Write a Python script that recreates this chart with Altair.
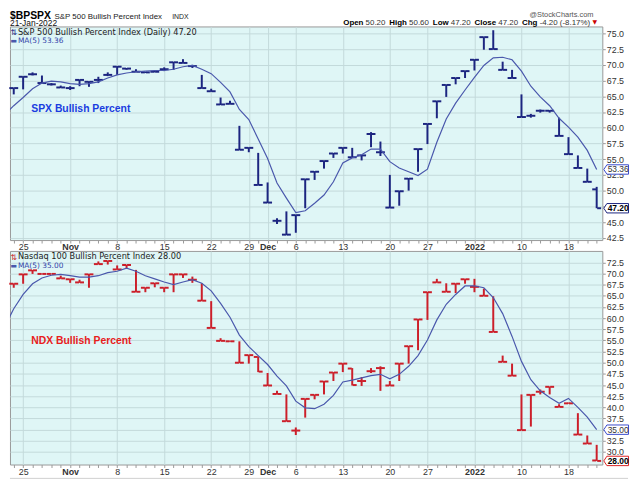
import json
import altair as alt
import pandas as pd

# ---------------- data ----------------
dates = [
    "2021-10-22", "2021-10-25", "2021-10-26", "2021-10-27", "2021-10-28", "2021-10-29",
    "2021-11-01", "2021-11-02", "2021-11-03", "2021-11-04", "2021-11-05",
    "2021-11-08", "2021-11-09", "2021-11-10", "2021-11-11", "2021-11-12",
    "2021-11-15", "2021-11-16", "2021-11-17", "2021-11-18", "2021-11-19",
    "2021-11-22", "2021-11-23", "2021-11-24", "2021-11-26",
    "2021-11-29", "2021-11-30", "2021-12-01", "2021-12-02", "2021-12-03",
    "2021-12-06", "2021-12-07", "2021-12-08", "2021-12-09", "2021-12-10",
    "2021-12-13", "2021-12-14", "2021-12-15", "2021-12-16", "2021-12-17",
    "2021-12-20", "2021-12-21", "2021-12-22", "2021-12-23",
    "2021-12-27", "2021-12-28", "2021-12-29", "2021-12-30", "2021-12-31",
    "2022-01-03", "2022-01-04", "2022-01-05", "2022-01-06", "2022-01-07",
    "2022-01-10", "2022-01-11", "2022-01-12", "2022-01-13", "2022-01-14",
    "2022-01-18", "2022-01-19", "2022-01-20", "2022-01-21",
]
tick_dates = ["2021-10-25", "2021-11-01", "2021-11-08", "2021-11-15", "2021-11-22",
              "2021-11-29", "2021-12-01", "2021-12-06", "2021-12-13", "2021-12-20",
              "2021-12-27", "2022-01-03", "2022-01-10", "2022-01-18"]
tick_labels = ["25", "Nov", "8", "15", "22", "29", "Dec", "6", "13", "20", "27", "2022", "10", "18"]
bold_labels = ["Nov", "Dec", "2022"]

spx_open = [66.3, 68.1, 68.5, 67.1, 66.9, 66.4, 66.3, 67.6, 67.3, 67.6, 68.4, 69.7, 69.4, 68.9, 68.8, 68.9,
            69.3, 70.4, 70.3, 69.8, 66.3, 65.8, 63.7, 63.8, 56.5, 56.8, 50.9, 48.1, 45.2, 43.0, 46.1, 51.8,
            53.0, 54.7, 55.9, 56.8, 55.3, 55.6, 59.0, 56.1, 47.3, 49.9, 51.9, 56.6, 60.6, 64.2, 66.8, 67.9,
            69.0, 70.8, 74.4, 72.5, 69.2, 67.9, 61.7, 61.9, 62.7, 62.7, 58.7, 55.8, 53.6, 51.4, 50.2]
spx_high = [66.4, 68.2, 68.8, 68.3, 67.1, 66.7, 66.6, 67.7, 67.4, 68.1, 68.8, 69.8, 69.5, 69.3, 68.9, 69.1,
            69.6, 70.5, 70.9, 70.0, 68.4, 66.2, 64.8, 64.3, 60.3, 56.9, 56.0, 51.3, 45.6, 46.7, 46.2, 51.9,
            53.1, 54.8, 56.0, 56.9, 56.8, 55.7, 59.3, 57.8, 52.5, 50.0, 52.0, 56.7, 60.7, 64.3, 66.9, 68.0,
            69.1, 70.9, 74.5, 75.5, 70.5, 69.2, 65.3, 62.2, 62.9, 62.8, 61.6, 58.5, 55.6, 53.5, 50.6]
spx_low = [65.3, 66.1, 68.3, 67.0, 66.7, 66.3, 66.0, 66.6, 66.5, 67.1, 68.2, 68.4, 69.2, 68.8, 68.7, 68.8,
           69.0, 69.2, 70.2, 69.5, 66.2, 65.7, 63.6, 63.7, 56.4, 56.1, 50.8, 48.0, 44.7, 42.9, 43.3, 47.2,
           51.7, 53.5, 55.2, 55.9, 55.2, 54.8, 56.9, 55.5, 47.2, 47.6, 50.0, 53.0, 57.4, 61.5, 64.9, 66.9,
           67.9, 69.1, 72.4, 72.4, 69.1, 67.8, 61.6, 61.6, 62.4, 62.4, 58.6, 55.7, 53.5, 51.3, 47.2]
spx_close = [66.3, 68.1, 68.5, 67.1, 66.9, 66.4, 66.3, 67.6, 67.3, 67.6, 68.4, 69.7, 69.4, 68.9, 68.8, 68.9,
             69.3, 70.4, 70.3, 69.8, 66.3, 65.8, 63.7, 63.8, 56.5, 56.8, 50.9, 48.1, 45.2, 43.0, 46.1, 51.8,
             53.0, 54.7, 55.9, 56.8, 55.3, 55.6, 59.0, 56.1, 47.3, 49.9, 51.9, 56.6, 60.6, 64.2, 66.8, 67.9,
             69.0, 70.8, 74.4, 72.5, 69.2, 67.9, 61.7, 61.9, 62.7, 62.7, 58.7, 55.8, 53.6, 51.4, 47.2]
# MA(5) as drawn; first value is the prior session (line enters from the left edge)
spx_ma = [62.0,
          63.5, 64.8, 66.2, 67.1, 67.4, 67.3, 67.0, 66.9, 67.0, 67.3, 67.9, 68.4, 68.7, 68.9, 69.0, 69.1,
          69.1, 69.3, 69.7, 69.9, 69.3, 68.6, 67.2, 65.7, 62.9, 61.3, 58.2, 55.1, 51.2, 48.8, 46.5, 46.8,
          48.0, 49.3, 51.4, 54.4, 55.2, 55.7, 56.6, 56.6, 54.6, 53.6, 53.0, 52.4, 53.4, 57.7, 61.4, 63.9,
          66.0, 68.0, 69.9, 71.1, 71.2, 70.8, 69.0, 66.6, 64.9, 63.5, 61.5, 60.1, 58.5, 56.4, 53.36]

ndx_open = [67.7, 69.8, 70.7, 69.9, 69.9, 68.9, 68.7, 68.0, 69.8, 72.1, 72.8, 70.9, 71.9, 65.9, 66.8, 67.8,
            66.8, 69.8, 69.8, 68.6, 63.9, 57.8, 54.9, 54.8, 50.0, 51.7, 51.3, 44.9, 43.0, 36.9, 34.8, 41.9,
            42.8, 45.8, 47.8, 49.8, 48.7, 45.9, 48.1, 48.8, 44.9, 49.8, 53.7, 59.7, 65.8, 68.0, 65.9, 67.7,
            68.7, 67.0, 65.0, 56.9, 50.2, 47.1, 34.9, 42.8, 43.5, 44.6, 40.1, 40.9, 33.9, 31.9, 28.1]
ndx_high = [67.8, 69.9, 70.8, 70.0, 70.0, 69.5, 68.8, 68.6, 69.9, 72.7, 72.9, 71.8, 72.0, 70.8, 66.9, 67.9,
            66.9, 69.9, 69.9, 69.3, 67.8, 63.8, 55.5, 54.9, 54.8, 51.8, 51.4, 47.7, 43.7, 42.9, 35.5, 42.0,
            42.9, 45.9, 47.9, 49.9, 48.8, 46.8, 48.8, 49.2, 45.9, 49.9, 53.8, 59.8, 65.9, 68.8, 67.8, 67.8,
            68.8, 68.8, 66.6, 64.9, 51.6, 49.8, 42.9, 42.9, 44.0, 44.7, 40.7, 41.1, 38.7, 33.7, 31.6]
ndx_low = [66.8, 67.7, 69.9, 69.8, 69.8, 68.8, 67.9, 67.9, 66.8, 72.0, 72.0, 70.8, 71.0, 65.8, 65.8, 66.9,
           65.8, 65.8, 69.0, 67.9, 63.8, 57.7, 54.8, 54.7, 49.9, 49.8, 47.9, 44.8, 42.9, 36.8, 33.8, 37.7,
           41.8, 42.9, 45.9, 47.9, 44.9, 44.8, 47.7, 43.7, 44.8, 45.9, 49.8, 52.8, 59.6, 67.9, 65.8, 65.6,
           67.7, 65.8, 64.9, 56.8, 50.1, 47.0, 34.8, 35.7, 42.9, 42.9, 40.0, 40.8, 33.8, 31.8, 28.0]
ndx_close = [67.7, 69.8, 70.7, 69.9, 69.9, 68.9, 68.7, 68.0, 69.8, 72.1, 72.8, 70.9, 71.9, 65.9, 66.8, 67.8,
             66.8, 69.8, 69.8, 68.6, 63.9, 57.8, 54.9, 54.8, 50.0, 51.7, 48.0, 44.9, 43.0, 36.9, 34.8, 41.9,
             42.8, 45.8, 47.8, 49.8, 45.0, 45.9, 48.1, 48.8, 44.9, 49.8, 53.7, 59.7, 65.8, 68.0, 65.9, 67.7,
             68.7, 67.0, 65.0, 56.9, 50.2, 47.1, 34.9, 42.8, 43.5, 44.6, 40.1, 40.9, 33.9, 31.9, 28.0]
ndx_ma = [57.9,
          62.1, 65.3, 67.7, 69.0, 69.6, 69.8, 69.5, 69.2, 69.2, 69.5, 70.2, 70.5, 71.2, 70.5, 69.5, 68.8,
          68.1, 67.5, 68.1, 68.6, 67.8, 66.1, 63.3, 60.2, 56.2, 53.6, 51.6, 49.6, 47.0, 44.8, 41.4, 39.9,
          39.7, 40.7, 42.7, 45.7, 46.1, 46.6, 47.1, 47.4, 46.4, 47.4, 49.2, 51.6, 55.1, 59.6, 63.1, 65.3,
          67.2, 67.2, 66.8, 64.6, 61.0, 55.9, 50.3, 46.2, 43.7, 42.2, 40.9, 42.0, 40.0, 37.8, 35.0]

spx_yticks = [42.5, 45.0, 47.5, 50.0, 52.5, 55.0, 57.5, 60.0, 62.5, 65.0, 67.5, 70.0, 72.5, 75.0]
ndx_yticks = [30.0, 32.5, 35.0, 37.5, 40.0, 42.5, 45.0, 47.5, 50.0, 52.5, 55.0, 57.5, 60.0, 62.5,
              65.0, 67.5, 70.0, 72.5]

# ---------------- style ----------------
BG = "#dff6f6"
GRID = "#c3dadb"
BORDER = "#999999"
SPX_COL = "#1c2580"
NDX_COL = "#cc1f2a"
MA_COL = "#4a58ac"
W, H = 599, 216
FONT = "Liberation Sans"
LFONT = "DejaVu Sans"

idx = list(range(len(dates)))
tick_idx = [dates.index(d) for d in tick_dates]
bold_idx = [tick_idx[tick_labels.index(b)] for b in bold_labels]
lab_expr = (f"indexof({json.dumps(tick_idx)}, datum.value) >= 0 ? "
            f"{json.dumps(tick_labels)}[indexof({json.dumps(tick_idx)}, datum.value)] : ''")

xaxis = alt.Axis(
    values=idx, labelExpr=lab_expr, title=None, domain=False,
    tickSize=3, tickColor="#9a9a9a", labelPadding=0,
    labelFont=FONT, labelFontSize=9, labelColor="#333333",
    labelFontWeight={"condition": {"test": f"indexof({json.dumps(bold_idx)}, datum.value) >= 0",
                                   "value": "bold"}, "value": "normal"},
    labelOverlap=False, labelFlush=False, labelBound=False,
    grid=True, gridColor=GRID, gridWidth=1,
    gridOpacity={"condition": {"test": f"indexof({json.dumps(tick_idx)}, datum.value) >= 0",
                               "value": 1}, "value": 0},
)
xscale = alt.Scale(domain=[-0.4, 62.6], nice=False, zero=False)


def yaxis(vals):
    return alt.Axis(values=vals, orient="right", format=".1f", title=None, domain=False,
                    tickSize=3, tickColor="#9a9a9a", labelPadding=1, labelFont=FONT,
                    labelFontSize=9, labelColor="#333333", labelFlush=False,
                    labelOverlap=False, grid=True, gridColor=GRID, gridWidth=1)


def txt(s, x, y, size=9, color="#000000", weight="normal", font=FONT, align="left",
        baseline="alphabetic"):
    return alt.Chart(pd.DataFrame({"t": [s]})).mark_text(
        font=font, fontSize=size, color=color, fontWeight=weight, align=align, baseline=baseline
    ).encode(text="t:N", x=alt.value(x), y=alt.value(y))


BOX = "M-1,0L-0.75,-0.38L1,-0.38L1,0.38L-0.75,0.38Z"


def panel(o, h, l, c, ma, color, ydom, yvals, legend, ma_legend, name, name_col, name_y,
          close_txt, ma_txt, close_box_col, extra=()):
    df = pd.DataFrame({"i": idx, "o": o, "h": h, "l": l, "c": c})
    ma_df = pd.DataFrame({"i": [-1] + idx, "v": ma})
    ys = alt.Scale(domain=ydom, nice=False, zero=False)
    ya = yaxis(yvals)
    X = alt.X("i:Q", scale=xscale, axis=xaxis)
    base = alt.Chart(df)
    hl = base.mark_rule(color=color, strokeWidth=2).encode(
        x=X, y=alt.Y("l:Q", scale=ys, axis=ya), y2="h:Q")
    op = base.mark_tick(orient="horizontal", size=4, thickness=2, xOffset=-2.5, color=color,
                        opacity=1).encode(x=X, y=alt.Y("o:Q", scale=ys, axis=ya))
    cl = base.mark_tick(orient="horizontal", size=4, thickness=2, xOffset=2.5, color=color,
                        opacity=1).encode(x=X, y=alt.Y("c:Q", scale=ys, axis=ya))
    line = alt.Chart(ma_df).mark_line(color=MA_COL, strokeWidth=1.2, clip=True).encode(
        x=X, y=alt.Y("v:Q", scale=ys, axis=ya))
    vals = pd.DataFrame({"v": [ma[-1], c[-1]], "t": [ma_txt, close_txt]})
    box_ma = alt.Chart(vals.iloc[[0]]).mark_point(
        shape=BOX, size=625, filled=True, fill="white", stroke="#3a4ccc", strokeWidth=1,
        opacity=1).encode(x=alt.value(613), y=alt.Y("v:Q", scale=ys, axis=ya))
    box_cl = alt.Chart(vals.iloc[[1]]).mark_point(
        shape=BOX, size=625, filled=True, fill="white", stroke=close_box_col, strokeWidth=1,
        opacity=1).encode(x=alt.value(613), y=alt.Y("v:Q", scale=ys, axis=ya))
    t_ma = alt.Chart(vals.iloc[[0]]).mark_text(
        font=FONT, fontSize=8.5, color="#333333", align="center", baseline="middle").encode(
        x=alt.value(615), y=alt.Y("v:Q", scale=ys, axis=ya), text="t:N")
    t_cl = alt.Chart(vals.iloc[[1]]).mark_text(
        font=FONT, fontSize=8.5, color="#000000", fontWeight="bold", align="center",
        baseline="middle").encode(
        x=alt.value(615), y=alt.Y("v:Q", scale=ys, axis=ya), text="t:N")
    layers = [hl, op, cl, line,
              txt("⇅", 0.5, 9, size=8, color=color, font=LFONT),
              txt(legend, 8, 8.5, size=8.3, color="#222222", font=LFONT),
              txt("▬", 0.5, 17, size=7, color=MA_COL, font=LFONT),
              txt(ma_legend, 8, 17, size=7.5, color="#3344aa", font=LFONT),
              txt(name, 21.5, name_y, size=10.5, color=name_col, weight="bold", font=FONT,
                  baseline="middle"),
              box_ma, box_cl, t_ma, t_cl] + list(extra)
    return alt.layer(*layers).properties(width=W, height=H)


header = [
    txt("$BPSPX", 0, -7.5, size=10.5, weight="bold"),
    txt("S&P 500 Bullish Percent Index", 45, -7.5, size=8, color="#222222"),
    txt("INDX", 164, -7.5, size=7, color="#222222"),
    txt("21-Jan-2022", 0, -0.5, size=8.5, color="#111111"),
    txt("@StockCharts.com", 590, -9.5, size=7.5, color="#555555", align="right"),
    txt("Open", 337, -1.5, size=8, weight="bold"),
    txt("50.20", 359.6, -1.5, size=8, color="#333333"),
    txt("High", 383.6, -1.5, size=8, weight="bold"),
    txt("50.60", 403.6, -1.5, size=8, color="#333333"),
    txt("Low", 427.6, -1.5, size=8, weight="bold"),
    txt("47.20", 445.8, -1.5, size=8, color="#333333"),
    txt("Close", 469.8, -1.5, size=8, weight="bold"),
    txt("47.20", 493.8, -1.5, size=8, color="#333333"),
    txt("Chg", 517.8, -1.5, size=8, weight="bold"),
    txt("-4.20 (-8.17%)", 535.6, -1.5, size=8, color="#333333"),
    txt("▼", 589, -2, size=6, color="#cc0000", font=LFONT),
]

top = panel(spx_open, spx_high, spx_low, spx_close, spx_ma, SPX_COL, [42.14, 76.1],
            spx_yticks, "S&P 500 Bullish Percent Index (Daily) 47.20", "MA(5) 53.36",
            "SPX Bullish Percent", "#1a3de0", 84, "47.20", "53.36", "#1c2580", header)

bottom_extra = [
    alt.Chart(pd.DataFrame({"a": [0]})).mark_rule(color="#cfcfcf", strokeWidth=1).encode(
        x=alt.value(0), x2=alt.value(625), y=alt.value(230)),
]
bottom = panel(ndx_open, ndx_high, ndx_low, ndx_close, ndx_ma, NDX_COL, [27.19, 75.05],
               ndx_yticks, "Nasdaq 100 Bullish Percent Index 28.00", "MA(5) 35.00",
               "NDX Bullish Percent", "#e8201c", 90.7, "28.00", "35.00", "#dd2222", bottom_extra)

chart = alt.vconcat(top, bottom, spacing=11, bounds="flush", padding=0).configure_view(
    fill=BG, stroke=BORDER, strokeWidth=1)

chart.save("out.html", embed_options={"renderer": "svg", "actions": False})
